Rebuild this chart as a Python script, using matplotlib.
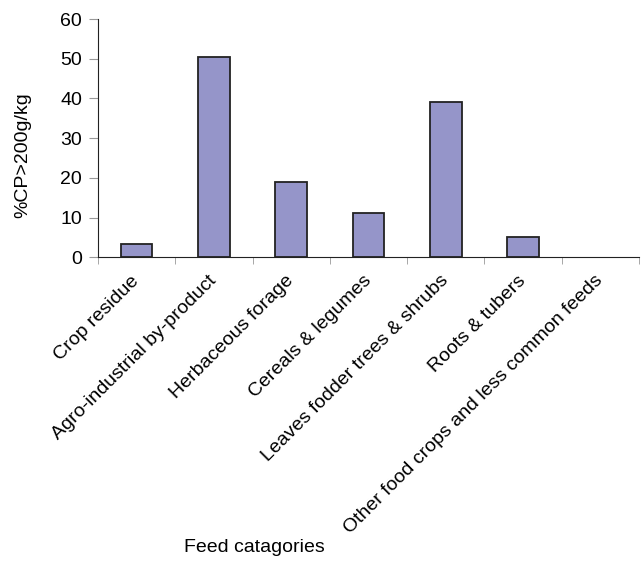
import matplotlib
matplotlib.use("Agg")
import matplotlib.pyplot as plt

categories = ["Crop residue", "Agro-industrial by-product", "Herbaceous forage",
              "Cereals & legumes", "Leaves fodder trees & shrubs", "Roots & tubers",
              "Other food crops and less common feeds"]
values = [3.3, 50.5, 19.0, 11.1, 39.1, 5.0, 0.0]
yticks = [0, 10, 20, 30, 40, 50, 60]

plt.rcParams['font.family'] = ['Liberation Sans', 'DejaVu Sans']
fig = plt.figure(figsize=(6.41, 5.61), dpi=100)
ax = fig.add_axes([98/641, 1-257.3/561, 541/641, (257.3-19)/561])

x = list(range(len(categories)))
bars = ax.bar(x, values, width=0.41, color='#9595c9', edgecolor='#222222', linewidth=1.3)
for b, v in zip(bars, values):
    if v == 0:
        b.set_linewidth(0)
ax.set_xlim(-0.5, len(categories)-0.5)
ax.set_ylim(0, 60)
ax.set_yticks(yticks)
ax.set_yticklabels([str(v) for v in yticks], fontsize=14)
ax.set_xticks(x)
ax.set_xticklabels(categories, rotation=45, ha='right', va='center', rotation_mode='anchor', fontsize=14)
ax.tick_params(axis='x', length=0, pad=15)
ax.set_xticks([i - 0.5 for i in range(len(categories)+1)], minor=True)
ax.tick_params(axis='x', which='minor', length=5, color='#999999', direction='out')
ax.tick_params(axis='y', length=6.5, color='#999999', direction='out', pad=5)
for s in ['top', 'right']:
    ax.spines[s].set_visible(False)
ax.spines['left'].set_color('#222222')
ax.spines['bottom'].set_color('#222222')

fig.text(23/641, 1-155/561, '%CP>200g/kg', rotation=90, ha='center', va='center', fontsize=14)
fig.text(254/641, 1-548/561, 'Feed catagories', ha='center', va='center', fontsize=14)

fig.savefig('out.png', dpi=100)
